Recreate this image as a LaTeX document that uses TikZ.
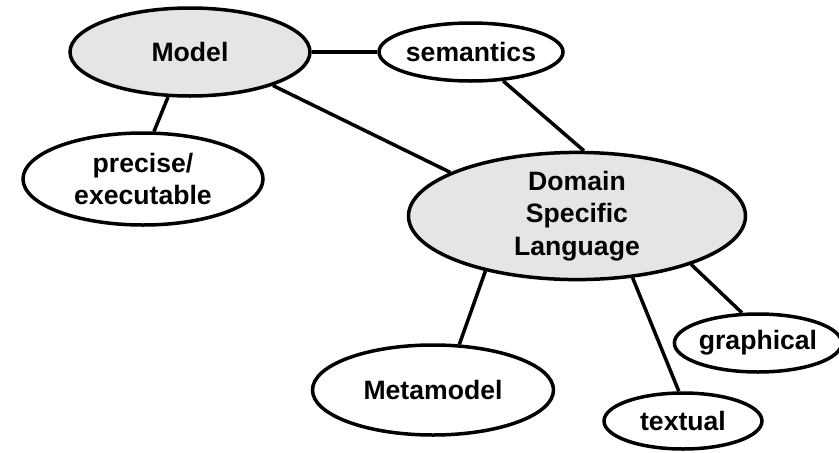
\documentclass[tikz,border=0pt]{standalone}
\usepackage{fontspec}
\setmainfont{Liberation Sans}
\usetikzlibrary{shapes.geometric}
\definecolor{bubblegray}{RGB}{229,229,229}
\tikzset{
  bubble/.style={ellipse, draw=black, line width=3.5pt, inner sep=0pt,
    align=center, font=\fontsize{26.6}{32.5}\selectfont\bfseries, fill=white},
  keybubble/.style={bubble, fill=bubblegray},
  link/.style={draw=black, line width=3.5pt}
}
\begin{document}
\begin{tikzpicture}[x=1pt,y=-1pt]
\useasboundingbox (0,0) rectangle (839,453);

% concepts
\node[keybubble, minimum width=240pt, minimum height=88pt] (model) at (190,52) {Model};
\node[bubble, minimum width=163pt, minimum height=58pt] (sem) at (471,52) {semantics};
\node[bubble, minimum width=240pt, minimum height=92pt] (prec) at (143,179) {precise/\\executable};
\node[keybubble, minimum width=337pt, minimum height=124pt] (dsl) at (577,216) {Domain\\Specific\\Language};
\node[bubble, minimum width=241pt, minimum height=90pt] (meta) at (433,390) {Metamodel};
\node[bubble, minimum width=158pt, minimum height=56pt] (textual) at (683,421) {textual};
\node[bubble, minimum width=157pt, minimum height=58pt] (graph) at (758,343) {graphical};

% relations
\path[link] (model.east) -- (sem.west);
\path[link] (model.-22) -- (dsl.161.6);
\path[link] (model.244) -- (prec.77.7);
\path[link] (sem.-42.4) -- (dsl.84.9);
\path[link] (dsl.211) -- (meta.60);
\path[link] (dsl.-48) -- (textual.98);
\path[link] (dsl.-23.4) -- (graph.118);
\end{tikzpicture}
\end{document}
